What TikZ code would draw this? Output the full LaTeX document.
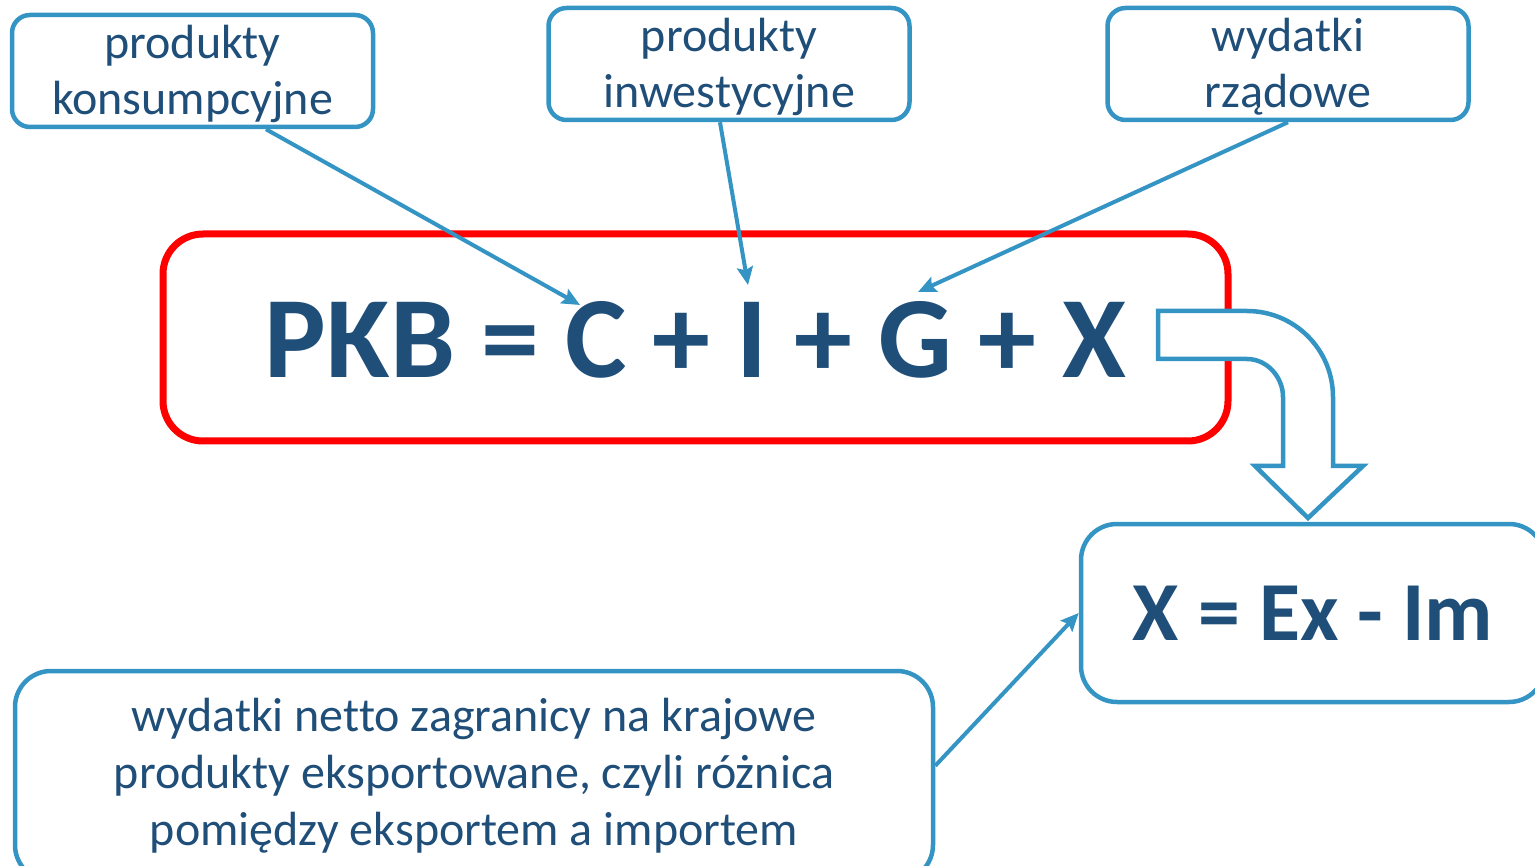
\documentclass[tikz,border=0pt]{standalone}
\usepackage{fontspec}
\setmainfont{Carlito}[Ligatures={NoCommon}]
\usetikzlibrary{positioning,calc,arrows.meta}
\definecolor{frame}{RGB}{52,148,196}
\definecolor{ink}{RGB}{31,78,121}
\definecolor{pkbred}{RGB}{255,0,0}
\newcommand{\twolines}[2]{\raisebox{12pt}[0pt][0pt]{\begin{tabular}[t]{@{}c@{}}#1\\#2\end{tabular}}}

\begin{document}
\begin{tikzpicture}[x=1pt,y=-1pt,
    labelbox/.style={draw=frame, line width=4.5pt, rounded corners=18pt, text=ink,
      align=center, inner sep=0pt, minimum width=361pt, minimum height=112pt,
      font=\fontsize{48}{56}\selectfont},
    bigbox/.style={draw=frame, line width=4.5pt, rounded corners=36pt, text=ink,
      align=center, inner sep=0pt},
    ptr/.style={frame, line width=4pt, -{Stealth[length=18pt,width=16pt,inset=3pt]}}]
    \path[use as bounding box, clip] (0,0) rectangle (1535,866);

    % boxes with the names of the parts
    \node[labelbox] (konsBox) at (192.5,71) {\twolines{produkty}{konsumpcyjne}};
    \node[labelbox] (inwBox) at (729,64) {\twolines{produkty}{inwestycyjne}};
    \node[labelbox] (rzadBox) at (1288,64) {\twolines{wydatki}{rządowe}};

    % main formula
    \node[draw=pkbred, line width=7pt, rounded corners=40pt, inner sep=0pt,
      minimum width=1065pt, minimum height=207pt, text=ink,
      font=\bfseries\fontsize{116}{120}\selectfont] (pkb) at (695.5,337.5)
      {\raisebox{-40.5pt}[0pt][0pt]{PKB = C + I + G + X}};

    \node[bigbox, minimum width=464pt, minimum height=178pt,
      font=\bfseries\fontsize{84}{90}\selectfont] (xBox) at (1313,613) {X = Ex - Im};
    \node[bigbox, minimum width=918pt, minimum height=210pt,
      font=\fontsize{48}{57}\selectfont] (netBox) at (474,776)
      {wydatki netto zagranicy na krajowe\\produkty eksportowane, czyli różnica\\pomiędzy eksportem a importem};

    % arrow tips at the letters
    \coordinate (cTip) at (580,305);
    \coordinate (iTip) at (748,285);
    \coordinate (gTip) at (918,292);

    \draw[ptr] ($(konsBox.south)+(73.5,0)$) -- (cTip);
    \draw[ptr] ($(inwBox.south)+(-9,0)$) -- (iTip);
    \draw[ptr] (rzadBox.south) -- (gTip);
    \draw[ptr] ($(netBox.north east)+(0,97)$) -- (xBox.west);

    % bent block arrow from X down to the box
    \draw[frame, line width=4.5pt, fill=white, line join=miter]
      (1158,311) -- (1247,311) .. controls (1294.5,311) and (1333,349.5) .. (1333,397)
      -- (1333,466) -- (1363,466) -- (1308,518) -- (1255,466) -- (1283,466) -- (1283,397)
      .. controls (1283,377) and (1267,359) .. (1247,359) -- (1158,359) -- cycle;
\end{tikzpicture}
\end{document}
